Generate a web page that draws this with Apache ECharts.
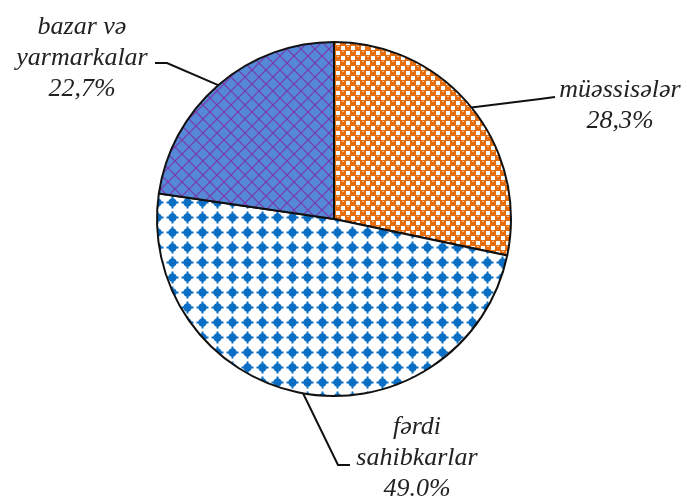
<!DOCTYPE html>
<html>
<head>
<meta charset="utf-8">
<script src="https://cdn.jsdelivr.net/npm/echarts@6/dist/echarts.min.js"></script>
<style>
  html, body { margin: 0; padding: 0; background: #fff; }
  #chart { width: 687px; height: 497px; }
</style>
</head>
<body>
<div id="chart"></div>
<script>
  // slices, clockwise from 12 o'clock
  var names = ['müəssisələr', 'fərdi\nsahibkarlar', 'bazar və\nyarmarkalar'];
  var values = [28.3, 49.0, 22.7];
  var valueLabels = ['28,3%', '49.0%', '22,7%'];

  // label placement (text centre, elbow, line end)
  var labelPos = [
    { x: 620, y: 106, elbow: [540, 99], end: [555, 97] },
    { x: 417, y: 458, elbow: [338, 465], end: [350, 465] },
    { x: 82, y: 58, elbow: [167, 63], end: [155, 63] }
  ];

  function makeTile(w, h, draw) {
    var c = document.createElement('canvas');
    c.width = w; c.height = h;
    draw(c.getContext('2d'));
    return { image: c, repeat: 'repeat' };
  }

  // orange checker of blobs and white squares
  var orangeFill = makeTile(10, 10, function (g) {
    g.fillStyle = '#E56D0C';
    g.fillRect(0, 0, 10, 10);
    g.fillStyle = '#ffffff';
    g.fillRect(6, 1, 4, 4);
    g.fillRect(1, 6, 4, 4);
    g.fillStyle = '#F4C29A';
    g.fillRect(2, 1, 2, 1);
    g.fillRect(7, 6, 2, 1);
  });

  // white with blue star dots
  var dotFill = makeTile(15, 15, function (g) {
    g.fillStyle = '#ffffff';
    g.fillRect(0, 0, 15, 15);
    g.fillStyle = '#0B6FC4';
    g.beginPath();
    g.arc(7.5, 7.5, 4.2, 0, Math.PI * 2);
    g.fill();
    g.fillRect(6.5, 1.5, 2, 12);
    g.fillRect(1.5, 6.5, 12, 2);
  });

  // blue with purple diagonal lattice
  var hatchFill = makeTile(14, 14, function (g) {
    g.fillStyle = '#5688D8';
    g.fillRect(0, 0, 14, 14);
    g.strokeStyle = '#7B38A8';
    g.lineWidth = 1.2;
    g.beginPath();
    g.moveTo(0, 0); g.lineTo(14, 14);
    g.moveTo(-7, 7); g.lineTo(7, 21);
    g.moveTo(7, -7); g.lineTo(21, 7);
    g.moveTo(14, 0); g.lineTo(0, 14);
    g.stroke();
  });

  var fills = [orangeFill, dotFill, hatchFill];

  var chart = echarts.init(document.getElementById('chart'), null, { renderer: 'canvas' });

  var seriesData = [];
  for (var i = 0; i < values.length; i++) {
    seriesData.push({
      name: names[i],
      value: values[i],
      itemStyle: { color: fills[i] }
    });
  }

  chart.setOption({
    backgroundColor: '#ffffff',
    animation: false,
    series: [{
      type: 'pie',
      center: [334, 219],
      radius: 177,
      startAngle: 90,
      clockwise: true,
      data: seriesData,
      itemStyle: {
        borderColor: '#111',
        borderWidth: 2
      },
      label: {
        show: true,
        position: 'outside',
        formatter: function (p) {
          return p.name + '\n' + valueLabels[p.dataIndex];
        },
        fontFamily: 'Liberation Serif',
        fontStyle: 'italic',
        fontSize: 26,
        lineHeight: 31,
        color: '#222'
      },
      labelLine: {
        show: true,
        length: 20,
        length2: 10,
        lineStyle: { color: '#111', width: 2 }
      },
      labelLayout: function (p) {
        var pos = labelPos[p.dataIndex];
        var anchor = p.labelLinePoints ? p.labelLinePoints[0] : pos.elbow;
        return {
          x: pos.x,
          y: pos.y,
          align: 'center',
          verticalAlign: 'middle',
          labelLinePoints: [anchor, pos.elbow, pos.end]
        };
      }
    }]
  });
</script>
</body>
</html>
